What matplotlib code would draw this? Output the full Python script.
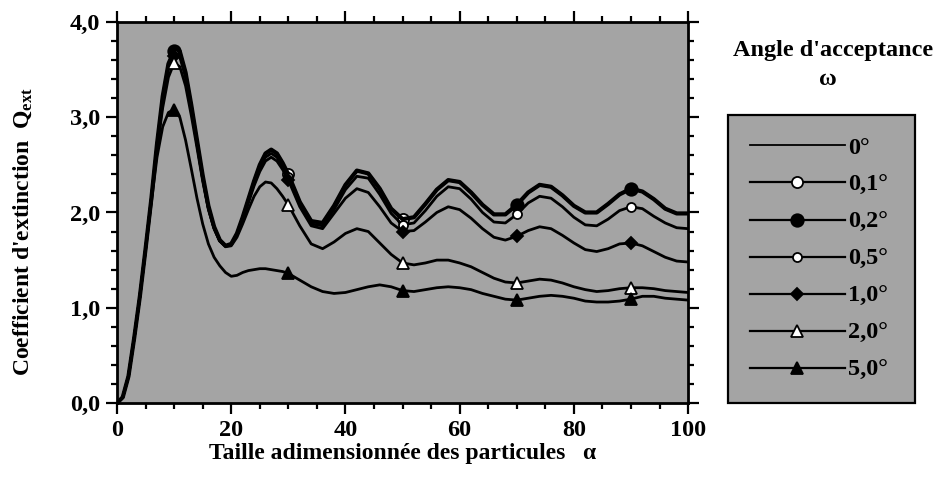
import numpy as np
import matplotlib
matplotlib.use("Agg")
import matplotlib.pyplot as plt
from matplotlib.lines import Line2D

plt.rcParams['font.family'] = ['Liberation Serif', 'DejaVu Serif']
plt.rcParams['font.weight'] = 'bold'
plt.rcParams['axes.labelweight'] = 'bold'
plt.rcParams['mathtext.fontset'] = 'custom'
plt.rcParams['mathtext.rm'] = 'Liberation Serif:bold'
plt.rcParams['mathtext.it'] = 'Liberation Serif:bold'
plt.rcParams['mathtext.bf'] = 'Liberation Serif:bold'

# particle size parameter
alpha = list(range(0, 31)) + list(range(32, 101, 2))

q_00 = [0.00, 0.06, 0.28, 0.68, 1.12, 1.62, 2.14, 2.72, 3.22, 3.56,
        3.70, 3.69, 3.47, 3.13, 2.76, 2.39, 2.07, 1.85, 1.71, 1.65,
        1.67, 1.78, 1.95, 2.14, 2.33, 2.50, 2.62, 2.66, 2.62, 2.52, 2.40,
        2.11, 1.91, 1.89, 2.07, 2.29, 2.44, 2.41, 2.25, 2.04, 1.93,
        1.95, 2.09, 2.24, 2.34, 2.32, 2.21, 2.08, 1.98, 1.98, 2.08,
        2.21, 2.29, 2.27, 2.18, 2.07, 2.00, 2.00, 2.09, 2.19, 2.25,
        2.22, 2.14, 2.04, 1.99, 1.99]
q_01 = list(q_00)
q_02 = list(q_00)
q_05 = [0.00, 0.06, 0.28, 0.68, 1.12, 1.62, 2.14, 2.71, 3.20, 3.53,
        3.66, 3.66, 3.45, 3.11, 2.74, 2.37, 2.05, 1.84, 1.70, 1.65,
        1.67, 1.77, 1.94, 2.12, 2.30, 2.46, 2.58, 2.62, 2.58, 2.48, 2.37,
        2.08, 1.88, 1.86, 2.03, 2.24, 2.38, 2.36, 2.19, 1.99, 1.87,
        1.89, 2.02, 2.17, 2.27, 2.25, 2.14, 2.00, 1.90, 1.89, 1.98,
        2.10, 2.17, 2.15, 2.06, 1.95, 1.87, 1.86, 1.93, 2.02, 2.06,
        2.04, 1.96, 1.89, 1.84, 1.83]
q_10 = [0.00, 0.06, 0.28, 0.68, 1.12, 1.62, 2.14, 2.70, 3.18, 3.50,
        3.64, 3.63, 3.42, 3.09, 2.72, 2.35, 2.04, 1.83, 1.70, 1.65,
        1.66, 1.76, 1.92, 2.10, 2.28, 2.43, 2.54, 2.58, 2.54, 2.45, 2.34,
        2.06, 1.86, 1.83, 1.99, 2.15, 2.25, 2.21, 2.06, 1.89, 1.80,
        1.81, 1.90, 2.00, 2.06, 2.03, 1.94, 1.83, 1.74, 1.71, 1.75,
        1.81, 1.85, 1.83, 1.76, 1.68, 1.61, 1.59, 1.62, 1.67, 1.68,
        1.65, 1.59, 1.53, 1.49, 1.48]
q_20 = [0.00, 0.06, 0.28, 0.68, 1.12, 1.62, 2.13, 2.66, 3.10, 3.42,
        3.57, 3.53, 3.33, 3.02, 2.68, 2.33, 2.03, 1.83, 1.70, 1.64,
        1.65, 1.74, 1.88, 2.03, 2.17, 2.27, 2.32, 2.31, 2.25, 2.17, 2.08,
        1.86, 1.67, 1.62, 1.69, 1.78, 1.83, 1.80, 1.68, 1.56, 1.47,
        1.45, 1.47, 1.50, 1.50, 1.47, 1.43, 1.37, 1.31, 1.27, 1.26,
        1.28, 1.30, 1.29, 1.26, 1.22, 1.19, 1.17, 1.18, 1.20, 1.21,
        1.21, 1.20, 1.18, 1.17, 1.16]
q_50 = [0.00, 0.06, 0.28, 0.68, 1.12, 1.60, 2.10, 2.58, 2.90, 3.05,
        3.08, 3.00, 2.76, 2.46, 2.15, 1.88, 1.67, 1.53, 1.44, 1.37,
        1.33, 1.34, 1.37, 1.39, 1.40, 1.41, 1.41, 1.40, 1.39, 1.38, 1.36,
        1.29, 1.22, 1.17, 1.15, 1.16, 1.19, 1.22, 1.24, 1.22, 1.18,
        1.17, 1.19, 1.21, 1.22, 1.21, 1.19, 1.15, 1.12, 1.09, 1.08,
        1.10, 1.12, 1.13, 1.12, 1.10, 1.07, 1.06, 1.06, 1.07, 1.09,
        1.12, 1.12, 1.10, 1.09, 1.08]

labels = ['0°', '0,1°', '0,2°', '0,5°', '1,0°', '2,0°', '5,0°']
x_ticks = [0, 20, 40, 60, 80, 100]
y_ticks = [0, 1, 2, 3, 4]
y_tick_labels = ['0,0', '1,0', '2,0', '3,0', '4,0']
mark_alpha = [10, 30, 50, 70, 90]

gray = '#a4a4a4'
idx = [alpha.index(a) for a in mark_alpha]

fig = plt.figure(figsize=(9.4, 4.79), dpi=100)
ax = fig.add_axes([0.1245, 0.1587, 0.6075, 0.7954])
ax.set_facecolor(gray)

# one entry per label: (values, marker, face, size, lw, which marks)
styles = [
    (q_00, None, 'k', 0, 1.4, idx),
    (q_01, 'o', 'white', 8, 2.0, [idx[1], idx[2]]),
    (q_02, 'o', 'k', 9, 3.0, [idx[0], idx[3], idx[4]]),
    (q_05, 'o', 'white', 6.5, 2.0, idx),
    (q_10, 'D', 'k', 6.5, 2.0, idx),
    (q_20, '^', 'white', 8, 2.0, idx),
    (q_50, '^', 'k', 9, 2.0, idx),
]
for vals, mk, fc, ms, lw, me in styles:
    ax.plot(alpha, vals, color='k', lw=lw, marker=mk, ms=ms, mfc=fc,
            mec='k', mew=1.3, markevery=me, solid_joinstyle='round')

ax.set_xlim(0, 100)
ax.set_ylim(0, 4)
ax.set_xticks(x_ticks)
ax.set_xticks(np.arange(0, 101, 5), minor=True)
ax.set_yticks(y_ticks)
ax.set_yticklabels(y_tick_labels)
ax.set_yticks(np.arange(0, 4.01, 0.2), minor=True)
ax.tick_params(which='both', direction='out', top=True, right=True,
               width=1.6, labelsize=17.5, pad=4)
ax.tick_params(which='major', length=8)
ax.tick_params(which='minor', length=4)
for s in ax.spines.values():
    s.set_linewidth(2)

ax.set_xlabel('Taille adimensionnée des particules   α', fontsize=17, labelpad=2)
ax.set_ylabel("Coefficient d'extinction  Q$_{\\mathrm{ext}}$", fontsize=17)
ax.yaxis.set_label_coords(-0.145, 0.45)

# legend
fig.text(0.886, 0.895, "Angle d'acceptance", ha='center', va='center', fontsize=17.5)
fig.text(0.881, 0.833, 'ω', ha='center', va='center', fontsize=17.5)

handles = []
for i, (vals, mk, fc, ms, lw, me) in enumerate(styles):
    handles.append(Line2D([], [], color='k', lw=1.3 if i == 0 else 1.6,
                          marker=mk, ms=ms, mfc=fc, mec='k', mew=1.3))
leg = fig.legend(handles, labels, loc='upper left',
                 bbox_to_anchor=(0.7745, 0.165, 0.199, 0.595), mode='expand',
                 fontsize=17.5, handlelength=3.9, handletextpad=0.15,
                 labelspacing=0.62, borderpad=0.9, borderaxespad=0,
                 fancybox=False, framealpha=1, facecolor=gray,
                 edgecolor='k')
leg.get_frame().set_linewidth(1.6)

fig.savefig('out.png', dpi=100)
